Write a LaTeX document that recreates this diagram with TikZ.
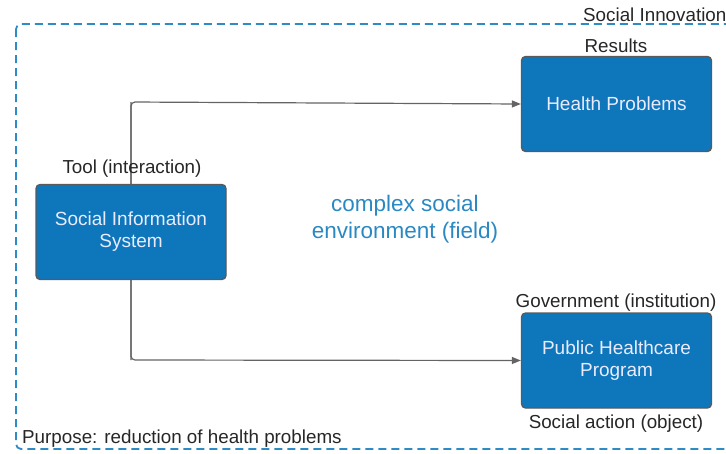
\documentclass[tikz,border=0pt]{standalone}
\usepackage{fontspec}
\setmainfont{Liberation Sans}
\usetikzlibrary{arrows.meta}
\definecolor{boxblue}{HTML}{0E76BA}
\definecolor{boxedge}{HTML}{5A5A5A}
\definecolor{dashblue}{HTML}{2F8BC6}
\definecolor{fieldblue}{HTML}{2A89C2}
\definecolor{linegray}{HTML}{646464}
\definecolor{txt}{HTML}{262626}
\begin{document}
\begin{tikzpicture}[x=1pt,y=-1pt,
  blockbox/.style={draw=boxedge,line width=1.3pt,fill=boxblue,rounded corners=4pt,
    minimum width=190pt,minimum height=95pt,text=white!92!blue,font=\fontsize{19}{22}\selectfont,align=center},
  lbl/.style={text=txt,font=\fontsize{18.8}{20}\selectfont,inner sep=0pt},
  conn/.style={draw=linegray,line width=1.2pt,-{Triangle[length=9pt,width=7pt]}}]
\useasboundingbox (0,0) rectangle (726,453);
\draw[dashblue,line width=1.8pt,dash pattern=on 8pt off 5pt,rounded corners=5pt] (16,24) rectangle (735,449);
\node[lbl,anchor=west] (si) at (583,15) {Social Innovation};
\coordinate (vtop) at (131,102);
\coordinate (vbot) at (131,360);
\node[blockbox] (hp) at (616.5,104) {Health Problems};
\node[blockbox] (ph) at (616.5,360.5) {Public Healthcare\\Program};
\draw[conn,rounded corners=4pt] (vbot) -- (vtop) -- (hp.west);
\draw[conn,rounded corners=4pt] (vtop) -- (vbot) -- (ph.west);
\node[blockbox] (sis) at (131,232) {Social Information\\System};
\node[lbl] (res) at (616,46) {Results};
\node[lbl] (tool) at (132,169) {Tool (interaction)};
\node[lbl] (gov) at (616,302.5) {Government (institution)};
\node[lbl] (soc) at (616,424) {Social action (object)};
\node[lbl,anchor=west] (pur) at (22,439) {Purpose: reduction of health problems};
\node[text=fieldblue,font=\fontsize{22.5}{27}\selectfont,align=center] (field) at (405,219) {complex social\\environment (field)};
\end{tikzpicture}
\end{document}
